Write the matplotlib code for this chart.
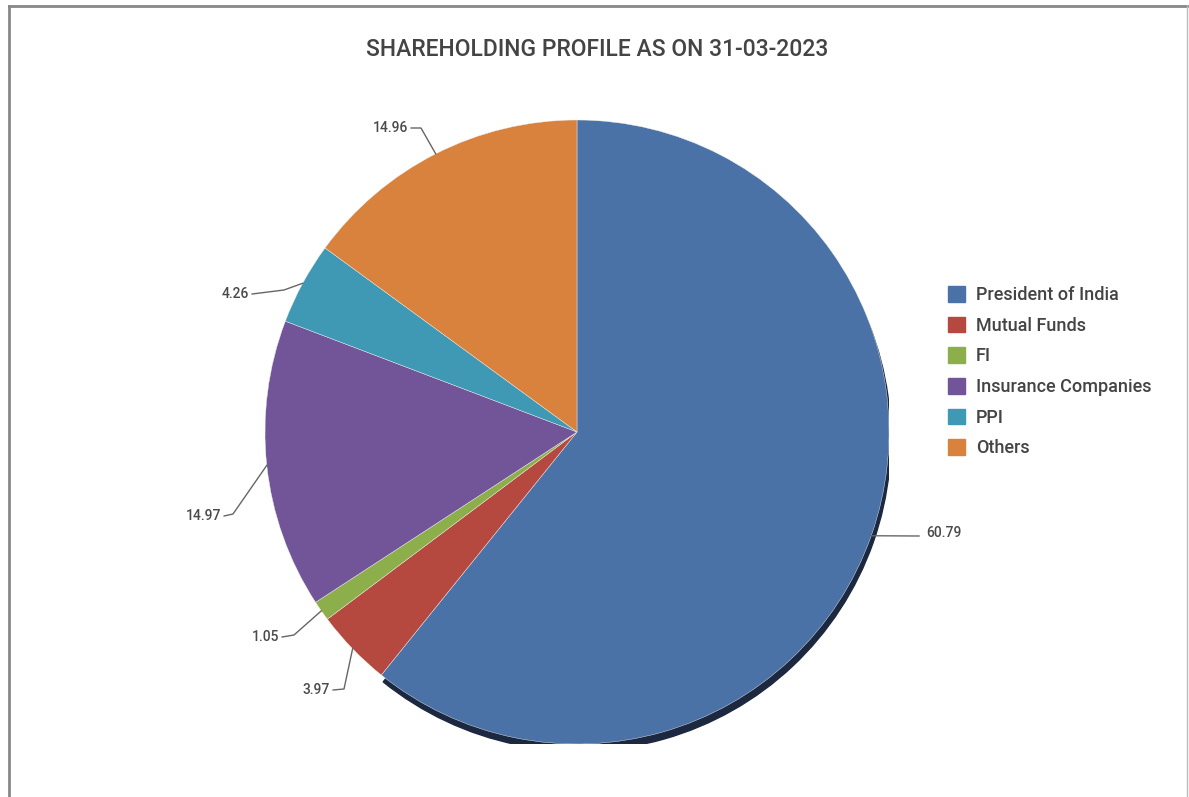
import matplotlib
matplotlib.use("Agg")
import numpy as np
import matplotlib.pyplot as plt
from matplotlib.patches import Wedge
from matplotlib.lines import Line2D

plt.rcParams['font.family'] = ['Roboto', 'DejaVu Sans']

categories = ["President of India", "Mutual Funds", "FI", "Insurance Companies", "PPI", "Others"]
shares = [60.79, 3.97, 1.05, 14.97, 4.26, 14.96]
share_labels = ["60.79", "3.97", "1.05", "14.97", "4.26", "14.96"]
colors = ["#4A72A6", "#B5483F", "#8CAF4B", "#725598", "#3F98B4", "#D9823D"]

# label text anchor and elbow of leader line, in pixels of the picture
label_pos = [(926, 533), (330, 690), (279, 637), (221, 516), (249, 294), (408, 128)]
elbow_pos = [(919, 536), (344, 689), (294, 635), (233, 514), (284, 290), (421, 128)]

W, H = 1189, 797
cx, cy, R = 577, 432, 312

fig = plt.figure(figsize=(W / 100, H / 100), dpi=100)
ax = fig.add_axes([(cx - R) / W, (H - cy - R) / H, 2 * R / W, 2 * R / H])


def px(p):
    return ((p[0] - cx) / R, (cy - p[1]) / R)


# shadow under the big slice
total = sum(shares)
theta2 = 90
theta1 = 90 - shares[0] / total * 360
ax.add_patch(Wedge((0.006, -0.022), 1.0, theta1, theta2, color="#1B2840", zorder=1))

wedges, _ = ax.pie(shares, colors=colors, startangle=90, counterclock=False,
                   radius=1.0, wedgeprops=dict(linewidth=0.3, edgecolor="#eeeeee"))
for w in wedges:
    w.set_zorder(2)

cum = 0
for i, v in enumerate(shares):
    mid = np.deg2rad(90 - (cum + v / 2) / total * 360)
    cum += v
    ex, ey = np.cos(mid), np.sin(mid)
    bx, by = px(elbow_pos[i])
    tx, ty = px(label_pos[i])
    if i == 0:
        ax.plot([ex, bx], [ey, by], color="#666666", lw=1, clip_on=False, zorder=3)
        ax.text(tx, ty, share_labels[i], ha="left", va="center", fontsize=10,
                fontweight="medium", color="#4a4a4a")
    else:
        ax.plot([ex, bx, tx + 0.01], [ey, by, ty], color="#666666", lw=1,
                clip_on=False, zorder=3)
        ax.text(tx, ty, share_labels[i], ha="right", va="center", fontsize=10,
                fontweight="medium", color="#4a4a4a")

ax.set_xlim(-1, 1)
ax.set_ylim(-1, 1)
ax.axis("off")

fig.text(597 / W, 1 - 50 / H, "SHAREHOLDING PROFILE AS ON 31-03-2023", ha="center",
         va="center", fontsize=16.5, fontweight="medium", color="#444444")

# legend
handles = [plt.Rectangle((0, 0), 1, 1, color=c) for c in colors]
leg = fig.legend(handles, categories, loc="upper left", bbox_to_anchor=(939 / W, 1 - 277 / H),
                 frameon=False, fontsize=13, labelcolor="#444444", handlelength=0.95,
                 handleheight=0.95, handletextpad=0.6, labelspacing=0.7, borderpad=0)
for t in leg.get_texts():
    t.set_fontweight("medium")

# frame of the picture
fig.add_artist(Line2D([9 / W, 9 / W], [0, 1 - 6 / H], color="#888888", lw=2))
fig.add_artist(Line2D([9 / W, 1187 / W], [1 - 6 / H, 1 - 6 / H], color="#888888", lw=2))
fig.add_artist(Line2D([1187 / W, 1187 / W], [0, 1 - 6 / H], color="#bbbbbb", lw=1))

fig.savefig("out.png", dpi=100, facecolor="white")
